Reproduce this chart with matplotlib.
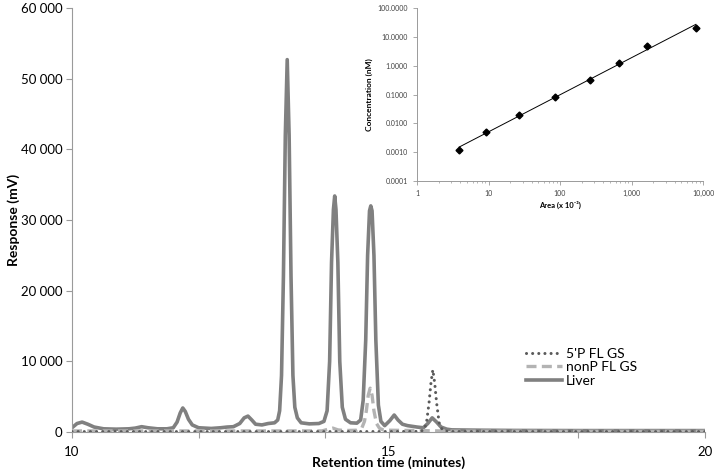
import numpy as np
import matplotlib
matplotlib.use("Agg")
import matplotlib.pyplot as plt
from matplotlib.ticker import FixedLocator, FuncFormatter, LogLocator, NullFormatter, NullLocator

plt.rcParams["font.family"] = ["Lato", "DejaVu Sans"]

# chromatogram traces (minutes, mV)
liver_t = [10.00, 10.08, 10.16, 10.25, 10.35, 10.50, 10.70, 10.90, 11.00, 11.10, 11.20, 11.35,
           11.50, 11.60, 11.66, 11.71, 11.75, 11.79, 11.84, 11.90, 12.00, 12.20, 12.35, 12.45,
           12.55, 12.65, 12.72, 12.78, 12.84, 12.90, 13.00, 13.10, 13.20, 13.25, 13.28, 13.31,
           13.34, 13.37, 13.40, 13.43, 13.46, 13.49, 13.52, 13.56, 13.62, 13.75, 13.90, 13.98,
           14.03, 14.07, 14.10, 14.13, 14.15, 14.17, 14.20, 14.23, 14.27, 14.32, 14.40, 14.50,
           14.56, 14.60, 14.64, 14.67, 14.70, 14.72, 14.74, 14.77, 14.80, 14.84, 14.88, 14.94,
           15.02, 15.09, 15.15, 15.22, 15.30, 15.45, 15.55, 15.62, 15.69, 15.76, 15.83, 15.92,
           16.00, 16.50, 17.00, 18.00, 19.00, 20.00]
liver_y = [600, 1200, 1400, 1100, 700, 450, 400, 450, 550, 750, 600, 450,
           450, 600, 1400, 2700, 3400, 2900, 1800, 1000, 600, 500, 600, 700,
           750, 1200, 2000, 2250, 1700, 1100, 1000, 1200, 1300, 1700, 3000, 8000,
           22000, 42000, 52700, 42000, 22000, 8000, 3500, 2000, 1300, 1150, 1200, 1500,
           3000, 10000, 24000, 31500, 33400, 31500, 24000, 10000, 3500, 1800, 1300, 1250,
           1700, 4500, 13000, 25000, 31300, 32000, 31300, 25000, 13000, 3800, 1500, 900,
           1600, 2400, 1700, 1100, 900, 700, 600, 1200, 2000, 1400, 700, 400,
           300, 250, 220, 200, 200, 200]

nonp_t = [10.00, 11.00, 12.00, 13.00, 13.95, 14.05, 14.12, 14.20, 14.30, 14.50, 14.58, 14.62,
          14.65, 14.68, 14.71, 14.74, 14.77, 14.81, 14.86, 14.92, 15.00, 15.50, 16.00, 18.00, 20.00]
nonp_y = [150, 150, 150, 150, 150, 400, 550, 300, 200, 250, 600, 1500,
          3000, 5200, 6200, 5200, 3000, 1200, 500, 300, 250, 200, 120, 100, 100]

p5_t = [10.00, 12.00, 14.00, 15.00, 15.50, 15.56, 15.60, 15.64, 15.67, 15.70, 15.73, 15.76,
        15.80, 15.85, 15.90, 16.00, 18.00, 20.00]
p5_y = [50, 50, 50, 60, 80, 300, 1300, 4100, 6900, 8800, 6900, 4100,
        1300, 300, 100, 60, 50, 50]

# inset calibration points
area = [3.9, 9.2, 27, 85, 263, 670, 1650, 7950]
conc = [0.0012, 0.0051, 0.020, 0.079, 0.31, 1.26, 5.0, 19.7]

fig = plt.figure(figsize=(7.22, 4.73), dpi=100)
ax = fig.add_axes([0.0997, 0.0867, 0.8768, 0.8963])

ax.plot(liver_t, liver_y, color="#808080", lw=2.6, solid_joinstyle="round", label="Liver", zorder=2)
ax.plot(nonp_t, nonp_y, color="#b3b3b3", lw=2.4, ls=(0, (3, 1.6)), label="nonP FL GS", zorder=3)
ax.plot(p5_t, p5_y, color="#5a5a5a", lw=2.2, ls=(0, (0.01, 2.0)), dash_capstyle="round",
        label="5'P FL GS", zorder=4)

ax.set_xlim(10, 20)
ax.set_ylim(0, 60000)
ax.xaxis.set_major_locator(FixedLocator([10, 12, 14, 15, 18, 20]))
ax.xaxis.set_major_formatter(FuncFormatter(lambda v, p: f"{v:g}" if v in (10, 15, 20) else ""))
ax.yaxis.set_major_locator(FixedLocator(np.arange(0, 60001, 10000)))
ax.yaxis.set_major_formatter(FuncFormatter(lambda v, p: f"{int(v):,}".replace(",", " ")))
for s in ("top", "right"):
    ax.spines[s].set_visible(False)
for s in ("left", "bottom"):
    ax.spines[s].set_color("#9a9a9a")
ax.tick_params(axis="both", colors="#9a9a9a", labelcolor="black", labelsize=9.5, length=4, width=0.8)
ax.tick_params(axis="x", pad=6)
ax.tick_params(axis="y", pad=3)
ax.set_xlabel("Retention time (minutes)", fontsize=10, fontweight="bold", labelpad=-1)
ax.set_ylabel("Response (mV)", fontsize=10, fontweight="bold")
ax.yaxis.set_label_coords(-0.082, 0.5)

h, l = ax.get_legend_handles_labels()
order = [2, 1, 0]
ax.legend([h[i] for i in order], [l[i] for i in order], loc="upper left",
          bbox_to_anchor=(0.728, 0.265), bbox_transform=fig.transFigure, frameon=False,
          fontsize=10, handlelength=2.6, handletextpad=0.3, labelspacing=0.12,
          borderaxespad=0, borderpad=0)

# inset calibration curve
ins = fig.add_axes([0.5776, 0.6173, 0.3961, 0.3658])
la, lc = np.log10(area), np.log10(conc)
k, b = np.polyfit(la, lc, 1)
fx = np.array([area[0], area[-1]])
ins.plot(fx, 10 ** (k * np.log10(fx) + b), color="black", lw=0.7)
ins.plot(area, conc, ls="none", marker="D", ms=3.5, color="black")
ins.set_xscale("log")
ins.set_yscale("log")
ins.set_xlim(1, 10000)
ins.set_ylim(0.0001, 100)
ins.xaxis.set_major_locator(FixedLocator([1, 10, 100, 1000, 10000]))
ins.xaxis.set_major_formatter(FuncFormatter(lambda v, p: f"{int(round(v)):,}"))
ins.xaxis.set_minor_locator(LogLocator(base=10, subs=np.arange(2, 10)))
ins.xaxis.set_minor_formatter(NullFormatter())
ins.yaxis.set_major_locator(FixedLocator([1e-4, 1e-3, 1e-2, 1e-1, 1, 10, 100]))
ins.yaxis.set_major_formatter(FuncFormatter(lambda v, p: f"{v:.4f}"))
ins.yaxis.set_minor_locator(NullLocator())
for s in ("top", "right"):
    ins.spines[s].set_visible(False)
for s in ("left", "bottom"):
    ins.spines[s].set_color("#9a9a9a")
    ins.spines[s].set_linewidth(0.7)
ins.tick_params(axis="both", which="both", colors="#9a9a9a", labelcolor="#404040", labelsize=5)
ins.tick_params(which="major", length=3, width=0.6)
ins.tick_params(which="minor", length=1.5, width=0.5)
ins.set_xlabel("Area (x 10\u207b\u00b3)", fontsize=5.5, fontweight="bold", labelpad=3)
ins.set_ylabel("Concentration (nM)", fontsize=6, fontweight="bold", labelpad=3)

fig.savefig("out.png", dpi=100)
